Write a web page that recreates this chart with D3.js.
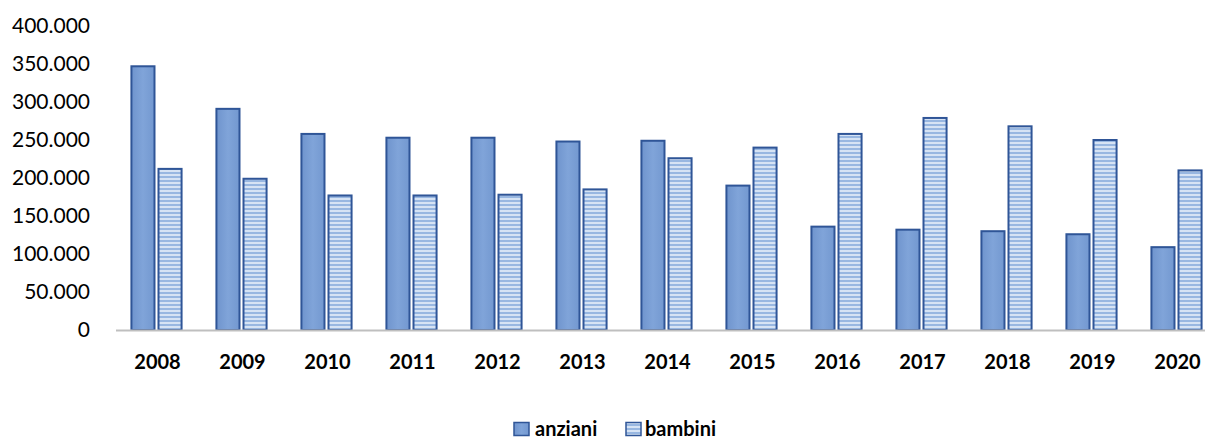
<!DOCTYPE html>
<html><head><meta charset="utf-8">
<script src="https://cdn.jsdelivr.net/npm/d3@7"></script>
<style>
html,body{margin:0;padding:0;background:#fff;}
svg{display:block;}
</style></head>
<body>
<svg id="chart" width="1205" height="440"></svg>
<script>
const categories = ["2008","2009","2010","2011","2012","2013","2014","2015","2016","2017","2018","2019","2020"];
const seriesNames = ["anziani","bambini"];
const anziani = [347000,291000,258000,253000,253000,248000,249000,190000,136000,132000,130000,126000,109000];
const bambini = [212000,199000,177000,177000,178000,185000,226000,240000,258000,279000,268000,250000,210000];
const yTicks = [0,50000,100000,150000,200000,250000,300000,350000,400000];

const FONT = "Lato, 'Open Sans', sans-serif";
const svg = d3.select("#chart");
const defs = svg.append("defs");
const grad = defs.append("linearGradient").attr("id","gA").attr("x1","0").attr("x2","1").attr("y1","0").attr("y2","0");
grad.append("stop").attr("offset","0").attr("stop-color","#6f94cd");
grad.append("stop").attr("offset","0.5").attr("stop-color","#80a4d9");
grad.append("stop").attr("offset","1").attr("stop-color","#7398d0");
const pat = defs.append("pattern").attr("id","pB").attr("patternUnits","userSpaceOnUse").attr("width",4).attr("height",4);
pat.append("rect").attr("width",4).attr("height",4).attr("fill","#d6e3f4");
pat.append("rect").attr("width",4).attr("height",2).attr("fill","#98b7e1");

const y = d3.scaleLinear().domain([0,400000]).range([330,26]);
const x = d3.scaleBand().domain(categories).range([114,1219]).paddingInner(0.41).paddingOuter(0.205);
const xs = d3.scaleBand().domain(seriesNames).range([0,x.bandwidth()]).paddingInner(0.148);

const fmt = v => d3.format(",")(v).replace(/,/g,".");

// y axis labels
const yAxis = d3.axisLeft(y).tickValues(yTicks).tickFormat(fmt).tickSize(0).tickPadding(0);
svg.append("g").attr("transform","translate(90,0)").call(yAxis)
  .call(g=>g.select(".domain").remove())
  .selectAll("text").attr("font-family",FONT).attr("font-size","21px").attr("fill","#000");

const data = categories.map((c,i)=>({cat:c, anziani:anziani[i], bambini:bambini[i]}));
const groups = svg.append("g").selectAll("g").data(data).join("g").attr("transform",d=>`translate(${x(d.cat)},0)`);
groups.selectAll("rect").data(d=>seriesNames.map(s=>({s, v:d[s]}))).join("rect")
  .attr("x",d=>xs(d.s)).attr("width",xs.bandwidth())
  .attr("y",d=>y(d.v)).attr("height",d=>y(0)-y(d.v))
  .attr("fill",d=>d.s==="anziani"?"url(#gA)":"url(#pB)")
  .attr("stroke","#2f5597").attr("stroke-width",2);

// x axis
const xAxis = d3.axisBottom(x).tickSize(0).tickPadding(0);
const gx = svg.append("g").attr("transform","translate(1,330)").call(xAxis);
gx.select(".domain").remove();
gx.selectAll("text").attr("dy","0").attr("y",39).attr("font-family",FONT).attr("font-weight","bold").attr("font-size","20px").attr("fill","#000");
svg.append("line").attr("x1",116).attr("x2",1205).attr("y1",330.5).attr("y2",330.5).attr("stroke","#bfbfbf").attr("stroke-width",2);

// legend
const legend = svg.append("g");
const legItems = [{s:"anziani",x:514,tx:535},{s:"bambini",x:626,tx:645}];
legItems.forEach(it=>{
  legend.append("rect").attr("x",it.x).attr("y",422.5).attr("width",15).attr("height",13)
    .attr("fill",it.s==="anziani"?"url(#gA)":"url(#pB)").attr("stroke","#2f5597").attr("stroke-width",1.5);
  legend.append("text").attr("x",it.tx).attr("y",435.5).text(it.s)
    .attr("font-family",FONT).attr("font-weight","bold").attr("font-size","20px").attr("fill","#000");
});
</script>
</body></html>
